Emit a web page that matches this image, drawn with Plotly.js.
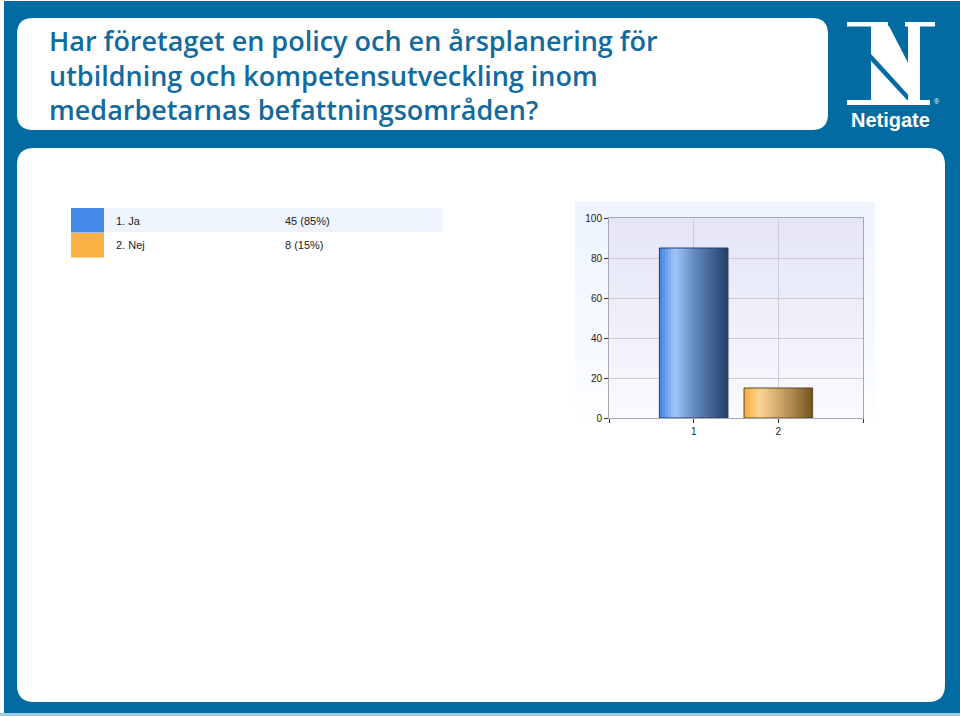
<!DOCTYPE html>
<html>
<head>
<meta charset="utf-8">
<script src="https://cdn.plot.ly/plotly-3.0.1.min.js"></script>
<style>
html,body{margin:0;padding:0;background:#ffffff;}
#chart{width:960px;height:716px;}
</style>
</head>
<body>
<div id="chart"></div>
<script>
// ---- Data ----
const titleLines = [
  "Har företaget en policy och en årsplanering för",
  "utbildning och kompetensutveckling inom",
  "medarbetarnas befattningsområden?"
];
const categories = [1, 2];
const categoryTicks = ["1", "2"];
const answerLabels = ["1. Ja", "2. Nej"];
const answerCounts = [45, 8];
const answerPercents = [85, 15];
const yTicks = [0, 20, 40, 60, 80, 100];

// ---- helpers (pixel -> paper) ----
const W = 960, H = 716;
const px = x => x / W;
const py = y => 1 - y / H;
function rrPath(x0, y0, x1, y1, r) {
  const P = (x, y) => px(x).toFixed(5) + "," + py(y).toFixed(5);
  return "M" + P(x0 + r, y0) + " L" + P(x1 - r, y0) + " Q" + P(x1, y0) + " " + P(x1, y0 + r) +
    " L" + P(x1, y1 - r) + " Q" + P(x1, y1) + " " + P(x1 - r, y1) +
    " L" + P(x0 + r, y1) + " Q" + P(x0, y1) + " " + P(x0, y1 - r) +
    " L" + P(x0, y0 + r) + " Q" + P(x0, y0) + " " + P(x0 + r, y0) + " Z";
}
function polyPath(pts) {
  return "M" + pts.map(p => px(p[0]).toFixed(5) + "," + py(p[1]).toFixed(5)).join(" L") + " Z";
}
function rect(x0, y0, x1, y1, color, layer) {
  return {type: "rect", xref: "paper", yref: "paper", x0: px(x0), x1: px(x1), y0: py(y1), y1: py(y0),
    fillcolor: color, line: {width: 0}, layer: layer || "below"};
}
function lerpColor(a, b, t) {
  const pa = a.match(/\w\w/g).map(h => parseInt(h, 16));
  const pb = b.match(/\w\w/g).map(h => parseInt(h, 16));
  return "rgb(" + pa.map((v, i) => Math.round(v + (pb[i] - v) * t)).join(",") + ")";
}
function gradStops(stops, t) {
  for (let i = 0; i < stops.length - 1; i++) {
    if (t <= stops[i + 1][0]) {
      const f = (t - stops[i][0]) / (stops[i + 1][0] - stops[i][0]);
      return lerpColor(stops[i][1], stops[i + 1][1], f);
    }
  }
  return lerpColor(stops[stops.length - 1][1], stops[stops.length - 1][1], 0);
}

const shapes = [];
const annotations = [];

// background frame
shapes.push(rect(4, 1, 960, 713, "#016ba2"));
shapes.push(rect(0, 713, 960, 716, "#9fcbe4"));
// title box and main panel
shapes.push({type: "path", xref: "paper", yref: "paper", path: rrPath(17, 18, 828, 130, 16), fillcolor: "#ffffff", line: {width: 0}, layer: "below"});
shapes.push({type: "path", xref: "paper", yref: "paper", path: rrPath(17, 148, 945, 702, 17), fillcolor: "#ffffff", line: {width: 0}, layer: "below"});

// chart outer background gradient
const NB = 30;
for (let i = 0; i < NB; i++) {
  const y0 = 202 + (440 - 202) * i / NB, y1 = 202 + (440 - 202) * (i + 1) / NB + 0.5;
  shapes.push(rect(575, y0, 875, y1, gradStops([[0, "eef5fd"], [0.7, "f8fbff"], [1, "ffffff"]], i / (NB - 1))));
}
for (let i = 0; i < NB; i++) {
  const y0 = 218 + 200 * i / NB, y1 = 218 + 200 * (i + 1) / NB + 0.5;
  shapes.push(rect(609, y0, 863, y1, gradStops([[0, "e5e5f6"], [0.5, "eeeffa"], [1, "fafbfe"]], i / (NB - 1))));
}

// legend table
const swatchColors = ["#4289e8", "#fbb345"];
shapes.push(rect(104, 208, 443, 232, "#eef4fd"));
answerLabels.forEach((lab, i) => {
  const y0 = 208 + i * 25;
  shapes.push(rect(71, y0, 104, y0 + 24.5, swatchColors[i]));
  annotations.push({xref: "paper", yref: "paper", x: px(114), y: py(y0 + 12.5), xanchor: "left", yanchor: "middle",
    text: lab, showarrow: false, font: {family: "Liberation Sans, Arial, sans-serif", size: 11, color: "#222"}});
  annotations.push({xref: "paper", yref: "paper", x: px(283), y: py(y0 + 12.5), xanchor: "left", yanchor: "middle",
    text: answerCounts[i] + " (" + answerPercents[i] + "%)", showarrow: false,
    font: {family: "Liberation Sans, Arial, sans-serif", size: 11, color: "#222"}});
});

// title text
titleLines.forEach((t, i) => {
  annotations.push({xref: "paper", yref: "paper", x: px(47), y: py(41 + i * 34), xanchor: "left", yanchor: "middle",
    text: t, showarrow: false, font: {family: "Open Sans, sans-serif", size: 27, weight: 600, color: "#126a9d"}});
});

// logo
const white = "#ffffff";
shapes.push(rect(847, 22, 888, 26.5, white, "above"));
shapes.push(rect(905, 22, 935, 26.5, white, "above"));
shapes.push(rect(908, 26, 920, 100, white, "above"));
shapes.push({type: "path", xref: "paper", yref: "paper", layer: "above", fillcolor: white, line: {width: 0},
  path: polyPath([[871, 26], [889, 26], [920, 86], [920, 100], [913, 100], [871, 54]])});
shapes.push({type: "path", xref: "paper", yref: "paper", layer: "above", fillcolor: white, line: {width: 0},
  path: polyPath([[871, 61], [871, 100], [907, 100]])});
shapes.push(rect(847, 100, 930, 105, white, "above"));
annotations.push({xref: "paper", yref: "paper", x: px(890), y: py(120), xanchor: "center", yanchor: "middle",
  text: "<b>Netigate</b>", showarrow: false, font: {family: "Liberation Sans, Arial, sans-serif", size: 20, color: white}});
annotations.push({xref: "paper", yref: "paper", x: px(937), y: py(102), xanchor: "center", yanchor: "middle",
  text: "®", showarrow: false, font: {family: "Liberation Sans, Arial, sans-serif", size: 7, color: white}});

// ---- bars (horizontal gradient via strips) ----
const barWidth = 0.81;
const NS = 24;
const blueStops = [[0, "3f82e2"], [0.22, "9ec6f7"], [0.55, "5d84bb"], [1, "223f69"]];
const orangeStops = [[0, "f7a93a"], [0.22, "fdd592"], [0.55, "c9a26a"], [1, "74531f"]];
const traces = [];
for (let i = 0; i < NS; i++) {
  const t = (i + 0.5) / NS;
  const w = barWidth / NS;
  traces.push({
    type: "bar", x: categories, y: answerPercents,
    width: i < NS - 1 ? w * 1.6 : w, offset: -barWidth / 2 + i * w,
    marker: {color: [gradStops(blueStops, t), gradStops(orangeStops, t)], line: {width: 0}},
    textposition: "none", hoverinfo: "skip", showlegend: false
  });
}
traces.push({
  type: "bar", x: categories, y: answerPercents, width: barWidth,
  marker: {color: "rgba(0,0,0,0)", line: {width: 1, color: ["#2b3d5c", "#5c4622"]}},
  hovertext: answerLabels, textposition: "none", hoverinfo: "text+y", showlegend: false
});

const layout = {
  width: W, height: H,
  margin: {l: 0, r: 0, t: 0, b: 0},
  paper_bgcolor: "#ffffff",
  plot_bgcolor: "rgba(0,0,0,0)",
  barmode: "overlay",
  showlegend: false,
  xaxis: {
    domain: [px(609), px(863)], range: [0, 3],
    tickvals: [0, 1, 2, 3], ticktext: ["", categoryTicks[0], categoryTicks[1], ""],
    showgrid: true, gridcolor: "#c9ccd8", gridwidth: 1,
    showline: true, linecolor: "#a8a8b0", mirror: true,
    ticks: "outside", ticklen: 4, tickcolor: "#333",
    tickfont: {family: "Liberation Sans Narrow, Arial Narrow, Liberation Sans, sans-serif", size: 10, color: "#222"},
    zeroline: false, fixedrange: true
  },
  yaxis: {
    domain: [py(418), py(218)], range: [0, 100],
    tickvals: yTicks,
    showgrid: true, gridcolor: "#c9ccd8", gridwidth: 1,
    showline: true, linecolor: "#a8a8b0", mirror: true,
    ticks: "outside", ticklen: 4, tickcolor: "#333",
    tickfont: {family: "Liberation Sans Narrow, Arial Narrow, Liberation Sans, sans-serif", size: 10, color: "#222"},
    zeroline: false, fixedrange: true
  },
  shapes: shapes,
  annotations: annotations
};

Plotly.newPlot("chart", traces, layout, {displayModeBar: false, staticPlot: true});
</script>
</body>
</html>
